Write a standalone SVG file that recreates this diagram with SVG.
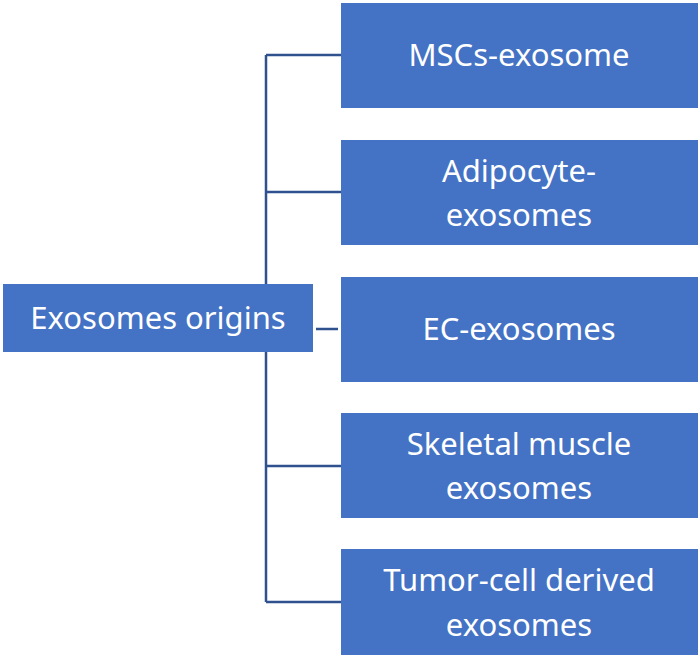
<svg xmlns="http://www.w3.org/2000/svg" width="700" height="659" viewBox="0 0 700 659">
<style>
.b{fill:#4472c4}
.t{fill:#fff;font-family:"Noto Sans","Open Sans",sans-serif;font-size:31px;text-anchor:middle}
.c{stroke:#2f528f;stroke-width:2.5;fill:none}
</style>
<rect width="700" height="659" fill="#fff"/>
<g id="connectors">
<path class="c" d="M266 55V284M266 352V602M266 55H341M266 192H341M316 329H338M266 466H341M266 602H341"/>
</g>
<g id="root"><rect class="b" x="3" y="284" width="310" height="68"/><text class="t" x="158" y="329">Exosomes origins</text></g>
<g id="n1"><rect class="b" x="341" y="3" width="357" height="105"/><text class="t" x="519" y="66">MSCs-exosome</text></g>
<g id="n2"><rect class="b" x="341" y="140" width="357" height="105"/><text class="t" x="519" y="182">Adipocyte-</text><text class="t" x="519" y="226">exosomes</text></g>
<g id="n3"><rect class="b" x="341" y="277" width="357" height="105"/><text class="t" x="519" y="340">EC-exosomes</text></g>
<g id="n4"><rect class="b" x="341" y="413" width="357" height="105"/><text class="t" x="519" y="455">Skeletal muscle</text><text class="t" x="519" y="499">exosomes</text></g>
<g id="n5"><rect class="b" x="341" y="549" width="357" height="106"/><text class="t" x="519" y="591">Tumor-cell derived</text><text class="t" x="519" y="636">exosomes</text></g>
</svg>
